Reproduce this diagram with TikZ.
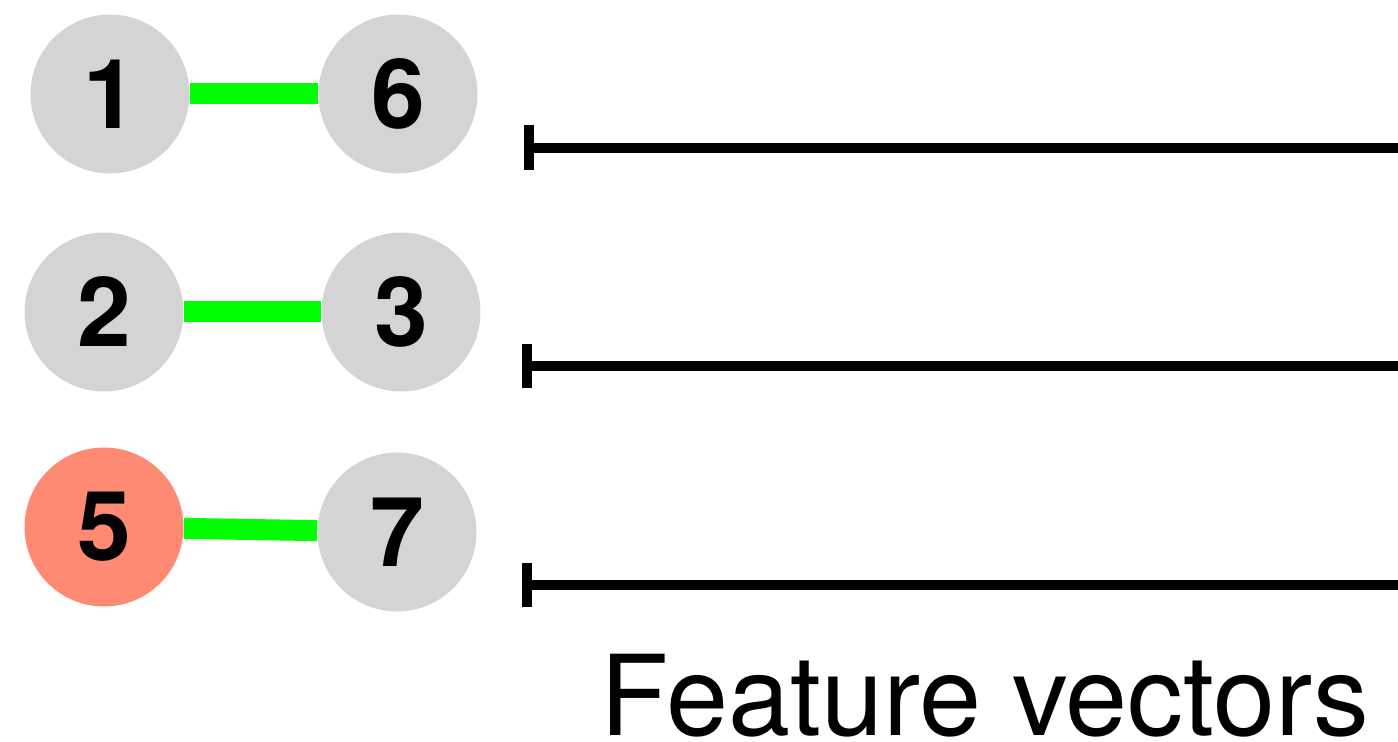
\documentclass[tikz,border=0pt]{standalone}
\usepackage{fontspec}
\setmainfont{TeX Gyre Heros}
\usetikzlibrary{arrows.meta}
\definecolor{vtxgray}{HTML}{D4D4D4}
\definecolor{vtxred}{HTML}{FF8A73}
\definecolor{pairgreen}{HTML}{00FF00}

\begin{document}
\begin{tikzpicture}[x=0.02cm, y=-0.02cm,
    vtx/.style={circle, fill=vtxgray, minimum size=3.18cm, inner sep=0pt,
                font=\bfseries\fontsize{55}{55}\selectfont},
    pair/.style={draw=pairgreen, line width=0.42cm},
    feat/.style={{Bar[width=0.9cm]}-, line width=0.2cm}]
    \useasboundingbox (0,0) rectangle (1398,742);
    % matched pairs
    \node[vtx] (n1) at (110,94) {1};
    \node[vtx] (n6) at (398,94) {6};
    \node[vtx] (n2) at (104,312) {2};
    \node[vtx] (n3) at (401,312) {3};
    \node[vtx, fill=vtxred] (n5) at (104,527) {5};
    \node[vtx] (n7) at (397,532) {7};
    \draw[pair] (n1) -- (n6);
    \draw[pair] (n2) -- (n3);
    \draw[pair] (n5) -- (n7);
    % one vector per pair
    \coordinate (f1a) at (524,148);
    \coordinate (f1b) at (1398,148);
    \coordinate (f2a) at (522,366);
    \coordinate (f2b) at (1398,366);
    \coordinate (f3a) at (522,585);
    \coordinate (f3b) at (1398,585);
    \draw[feat] (f1a) -- (f1b);
    \draw[feat] (f2a) -- (f2b);
    \draw[feat] (f3a) -- (f3b);
    \node[anchor=base, inner sep=0pt, font=\fontsize{63.5}{63.5}\selectfont]
      (label) at (985,735) {Feature vectors};
  \end{tikzpicture}
\end{document}
